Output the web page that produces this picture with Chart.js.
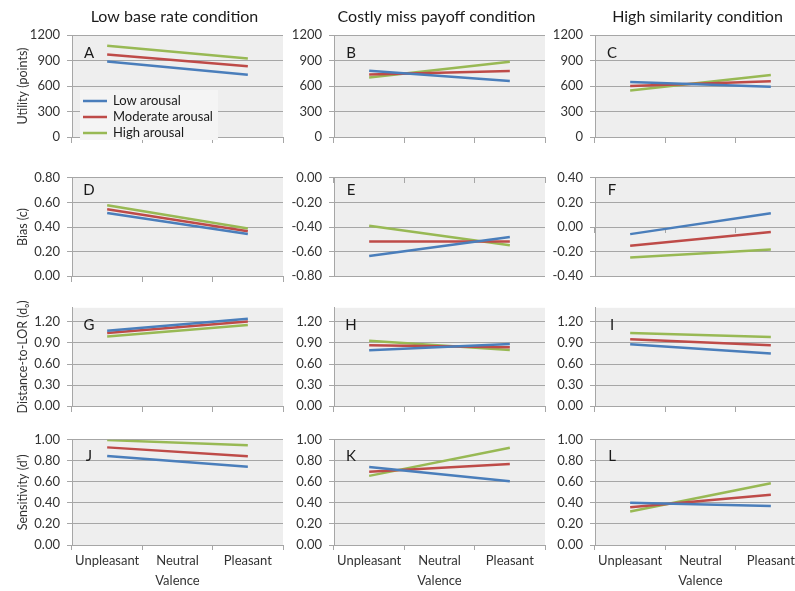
<!DOCTYPE html>
<html>
<head>
<meta charset="utf-8">
<script src="https://cdn.jsdelivr.net/npm/chart.js@4.4.1/dist/chart.umd.min.js"></script>
<style>
  html, body { margin: 0; padding: 0; background: #fff; overflow: hidden; }
  body { width: 795px; height: 591px; position: relative; }
  canvas { position: absolute; }
</style>
</head>
<body>
<script>
// categories (no Neutral value, the lines join Unpleasant to Pleasant)
const valence = ["Unpleasant", "Neutral", "Pleasant"];
const seriesNames = ["Low arousal", "Moderate arousal", "High arousal"];
const seriesColors = ["#4a7ebb", "#be4b48", "#98b954"];

const conditions = ["Low base rate condition", "Costly miss payoff condition", "High similarity condition"];
const measures = ["Utility (points)", "Bias (c)", "Distance-to-LOR (dₒ)", "Sensitivity (d')"];
const letters = ["A", "B", "C", "D", "E", "F", "G", "H", "I", "J", "K", "L"];

// each panel: [low, moderate, high] arousal, values for [unpleasant, neutral, pleasant]
const panelA = [[888, null, 734], [972, null, 833], [1075, null, 925]];
const panelB = [[780, null, 659], [737, null, 776], [702, null, 887]];
const panelC = [[649, null, 591], [602, null, 656], [547, null, 729]];
const panelD = [[0.513, null, 0.343], [0.545, null, 0.365], [0.577, null, 0.387]];
const panelE = [[-0.636, null, -0.482], [-0.518, null, -0.518], [-0.390, null, -0.549]];
const panelF = [[-0.058, null, 0.111], [-0.152, null, -0.041], [-0.248, null, -0.183]];
const panelG = [[1.072, null, 1.245], [1.043, null, 1.205], [0.991, null, 1.157]];
const panelH = [[0.796, null, 0.885], [0.868, null, 0.838], [0.932, null, 0.800]];
const panelI = [[0.881, null, 0.751], [0.954, null, 0.868], [1.040, null, 0.984]];
const panelJ = [[0.846, null, 0.744], [0.928, null, 0.843], [0.997, null, 0.949]];
const panelK = [[0.741, null, 0.605], [0.696, null, 0.771], [0.657, null, 0.925]];
const panelL = [[0.401, null, 0.371], [0.359, null, 0.477], [0.319, null, 0.587]];
const panels = [panelA, panelB, panelC, panelD, panelE, panelF, panelG, panelH, panelI, panelJ, panelK, panelL];

// y axis ranges (row 3 runs to 1.4 but is labelled only up to 1.2)
const yMin = [0, 0, 0, 0, -0.8, -0.4, 0, 0, 0, 0, 0, 0];
const yMax = [1200, 1200, 1200, 0.8, 0, 0.4, 1.4, 1.4, 1.4, 1, 1, 1];
const rowTickMax = [1200, 0.8, 1.2, 1];
const rowStep = [300, 0.2, 0.3, 0.2];
const rowDecimals = [0, 2, 2, 2];

// layout of the grid
const colPlotLeft = [72, 334, 595];
const axisW = [72, 51, 51];
const plotW = 211;
const rowPlotTop = [35, 173, 303, 435];
const rowPlotH = [109, 110, 110, 110];
const xAxisH = [8, 8, 8, 46];
const letterDy = [18, 12, 17, 16];

const fontFamily = "Lato, 'Open Sans', sans-serif";
const textColor = "#333333";
const gridColor = "#a6a6a6";
const plotBg = "#eeeeee";

// draws plot background, column title, panel letter and the legend in panel A
const panelDecor = {
	id: "panelDecor",
	beforeDraw(chart, args, opts) {
		const a = chart.chartArea;
		const ctx = chart.ctx;
		ctx.save();
		ctx.fillStyle = plotBg;
		ctx.fillRect(a.left, a.top, a.right - a.left, a.bottom - a.top);
		ctx.restore();
	},
	afterDraw(chart, args, opts) {
		const a = chart.chartArea;
		const ctx = chart.ctx;
		ctx.save();
		if (opts.title) {
			ctx.fillStyle = "#1a1a1a";
			ctx.font = "16px " + fontFamily;
			ctx.textAlign = "center";
			ctx.textBaseline = "middle";
			ctx.fillText(opts.title, (a.left + a.right) / 2 - 3, 17);
		}
		ctx.fillStyle = "#1a1a1a";
		ctx.font = "15px " + fontFamily;
		ctx.textAlign = "center";
		ctx.textBaseline = "middle";
		ctx.fillText(opts.letter, a.left + 17, a.top + opts.letterDy);

		if (opts.legend) {
			const bx = a.left + 8, by = a.top + 55;
			ctx.fillStyle = "#f4f4f4";
			ctx.fillRect(bx, by, 138, 50);
			chart.data.datasets.forEach((ds, i) => {
				const y = by + 11 + i * 16;
				ctx.strokeStyle = ds.borderColor;
				ctx.lineWidth = 2.5;
				ctx.beginPath();
				ctx.moveTo(bx + 3, y);
				ctx.lineTo(bx + 27, y);
				ctx.stroke();
				ctx.fillStyle = "#1a1a1a";
				ctx.font = "13px " + fontFamily;
				ctx.textAlign = "left";
				ctx.fillText(ds.label, bx + 33, y);
			});
		}
		ctx.restore();
	}
};

function makePanel(r, c) {
	const idx = r * 3 + c;
	const padTop = r === 0 ? rowPlotTop[0] : 10;
	const canvas = document.createElement("canvas");
	canvas.width = axisW[c] + plotW + 2;
	canvas.height = padTop + rowPlotH[r] + xAxisH[r];
	canvas.style.left = (colPlotLeft[c] - axisW[c]) + "px";
	canvas.style.top = (rowPlotTop[r] - padTop) + "px";
	document.body.appendChild(canvas);

	const isBottom = r === 3;
	new Chart(canvas, {
		type: "line",
		data: {
			labels: valence,
			datasets: seriesNames.map((name, i) => ({
				label: name,
				data: panels[idx][i],
				borderColor: seriesColors[i],
				backgroundColor: seriesColors[i],
				borderWidth: 2.5,
				pointRadius: 0,
				spanGaps: true,
				tension: 0,
			})),
		},
		options: {
			responsive: false,
			animation: false,
			devicePixelRatio: 1,
			layout: { padding: { top: padTop, right: 2, bottom: 0, left: 0 } },
			plugins: {
				legend: { display: false },
				tooltip: { enabled: false },
				panelDecor: {
					title: r === 0 ? conditions[c] : null,
					letter: letters[idx],
					letterDy: letterDy[r],
					legend: idx === 0,
				},
			},
			scales: {
				x: {
					position: isBottom ? "bottom" : { y: 0 },
					offset: true,
					grid: { offset: true, drawOnChartArea: false, drawTicks: true, tickLength: 5, color: gridColor },
					border: { color: gridColor },
					ticks: { display: isBottom, padding: 3, color: textColor, font: { family: fontFamily, size: 13 } },
					title: {
						display: isBottom,
						text: "Valence",
						color: textColor,
						padding: { top: 0, bottom: 2 },
						font: { family: fontFamily, size: 13 },
					},
					afterFit: (s) => { s.height = xAxisH[r]; },
				},
				y: {
					min: yMin[idx],
					max: yMax[idx],
					bounds: "data",
					grid: { color: gridColor, tickLength: 5 },
					border: { color: gridColor },
					ticks: {
						stepSize: rowStep[r],
						padding: 7,
						color: textColor,
						font: { family: fontFamily, size: 13 },
						callback: (v) => Number(v).toFixed(rowDecimals[r]),
					},
					afterBuildTicks: (s) => {
						s.ticks = s.ticks.filter((t) => t.value <= rowTickMax[r] + 1e-9);
					},
					title: {
						display: c === 0,
						text: measures[r],
						color: textColor,
						padding: { top: 15, bottom: 0 },
						font: { family: fontFamily, size: 12.5 },
					},
					afterFit: (s) => { s.width = axisW[c]; },
				},
			},
		},
		plugins: [panelDecor],
	});
}

for (let r = 0; r < 4; r++) {
	for (let c = 0; c < 3; c++) {
		makePanel(r, c);
	}
}
</script>
</body>
</html>
